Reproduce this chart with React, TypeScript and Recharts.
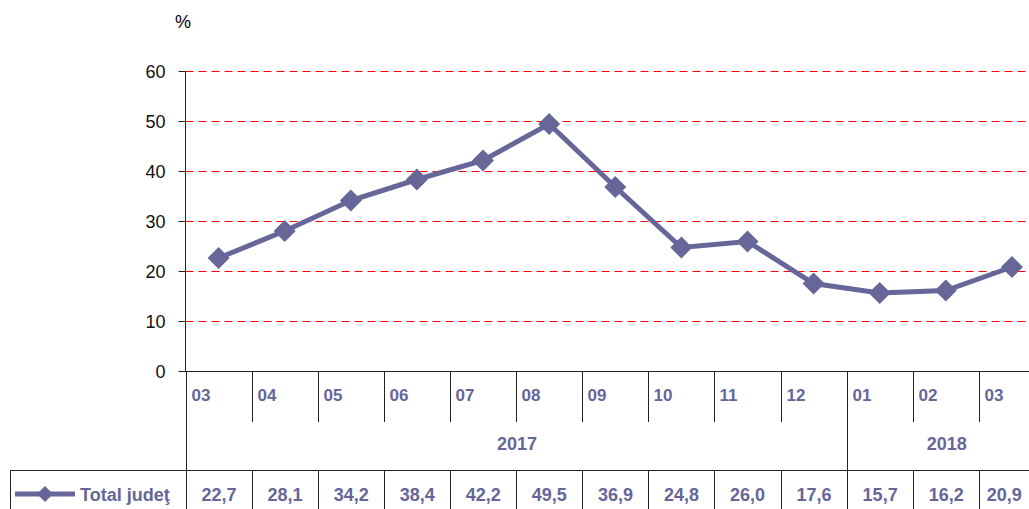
import React from "react";
import {
  LineChart,
  Line,
  XAxis,
  YAxis,
  CartesianGrid,
  Customized,
} from "recharts";

// months shown under the axis (03.2017 .. 03.2018)
const months = ["03", "04", "05", "06", "07", "08", "09", "10", "11", "12", "01", "02", "03"];
const totalJudet = [22.7, 28.1, 34.2, 38.4, 42.2, 49.5, 36.9, 24.8, 26.0, 17.6, 15.7, 16.2, 20.9];
const yearLabels = ["2017", "2018"];
const yearSpans = [10, 3];
const yTicks = [0, 10, 20, 30, 40, 50, 60];
const seriesName = "Total judeţ";

const data = months.map((m, i) => ({ key: String(i), month: m, value: totalJudet[i] }));

const VIEW_W = 1029;
const CHART_W = 1045;
const CHART_H = 509;
const LEFT = 185.5;
const TOP = 71.5;
const AXIS_Y = 371.5;
const BAND = (CHART_W - LEFT) / months.length;
const ROW_LINE = 470.5;
const COLOR = "#666699";
const LINE_COLOR = "#222";
const FONT = "'Liberation Sans', Arial, sans-serif";

const yearStarts: number[] = [];
yearSpans.reduce((acc, s) => {
  yearStarts.push(acc);
  return acc + s;
}, 0);

const fmt = (v: number) => v.toFixed(1).replace(".", ",");

function MonthTick(props: any) {
  const { x, index } = props;
  const left = Math.round(x - BAND / 2) + 0.5;
  const right = Math.min(x + BAND / 2, VIEW_W);
  const yi = yearStarts.indexOf(index);
  const isYearStart = yi >= 0;
  return (
    <g>
      <line x1={left} x2={left} y1={AXIS_Y} y2={isYearStart ? CHART_H : 422} stroke={LINE_COLOR} />
      {!isYearStart && <line x1={left} x2={left} y1={ROW_LINE} y2={CHART_H} stroke={LINE_COLOR} />}
      <text x={left + 5} y={401} fill={COLOR} fontSize={17} fontWeight="bold" fontFamily={FONT}>
        {months[index]}
      </text>
      <text
        x={(left + right) / 2}
        y={501}
        fill={COLOR}
        fontSize={18}
        fontWeight="bold"
        textAnchor="middle"
        fontFamily={FONT}
      >
        {fmt(totalJudet[index])}
      </text>
      {isYearStart && (
        <text
          x={left + (yearSpans[yi] * BAND) / 2}
          y={450}
          fill={COLOR}
          fontSize={18}
          fontWeight="bold"
          textAnchor="middle"
          fontFamily={FONT}
        >
          {yearLabels[yi]}
        </text>
      )}
    </g>
  );
}

function Diamond(props: any) {
  const { cx, cy, index } = props;
  const r = 11;
  return (
    <polygon
      key={`d-${index}`}
      points={`${cx},${cy - r} ${cx + r},${cy} ${cx},${cy + r} ${cx - r},${cy}`}
      fill={COLOR}
    />
  );
}

function Decorations() {
  return (
    <g>
      <text x={183} y={28} fontSize={18} fill="#000" textAnchor="middle" fontFamily={FONT}>
        %
      </text>
      <line x1={10} x2={CHART_W} y1={ROW_LINE} y2={ROW_LINE} stroke={LINE_COLOR} />
      <line x1={10.5} x2={10.5} y1={ROW_LINE} y2={CHART_H} stroke={LINE_COLOR} />
      <line x1={15} x2={75} y1={494} y2={494} stroke={COLOR} strokeWidth={5} />
      <polygon points="45,486 53,494 45,502 37,494" fill={COLOR} />
      <text x={80} y={501} fill={COLOR} fontSize={18} fontWeight="bold" fontFamily={FONT}>
        {seriesName}
      </text>
    </g>
  );
}

export default function App() {
  return (
    <div
      style={{
        position: "absolute",
        left: 0,
        top: 0,
        width: VIEW_W,
        height: CHART_H,
        overflow: "hidden",
        background: "#fff",
      }}
    >
      <LineChart width={CHART_W} height={CHART_H} data={data} margin={{ top: TOP, right: 0, left: 0, bottom: 0 }}>
        <CartesianGrid vertical={false} stroke="#ff0000" strokeDasharray="8 5" />
        <XAxis
          dataKey="key"
          height={CHART_H - AXIS_Y}
          padding={{ left: BAND / 2, right: BAND / 2 }}
          tick={<MonthTick />}
          tickLine={false}
          axisLine={{ stroke: LINE_COLOR }}
          interval={0}
        />
        <YAxis
          width={LEFT}
          domain={[0, 60]}
          ticks={yTicks}
          tickSize={7}
          tickMargin={13}
          axisLine={{ stroke: LINE_COLOR }}
          tickLine={{ stroke: LINE_COLOR }}
          tick={{ fill: "#111", fontSize: 18, fontFamily: FONT }}
        />
        <Line
          dataKey="value"
          name={seriesName}
          stroke={COLOR}
          strokeWidth={5}
          dot={<Diamond />}
          activeDot={false}
          isAnimationActive={false}
        />
        <Customized component={<Decorations />} />
      </LineChart>
    </div>
  );
}
